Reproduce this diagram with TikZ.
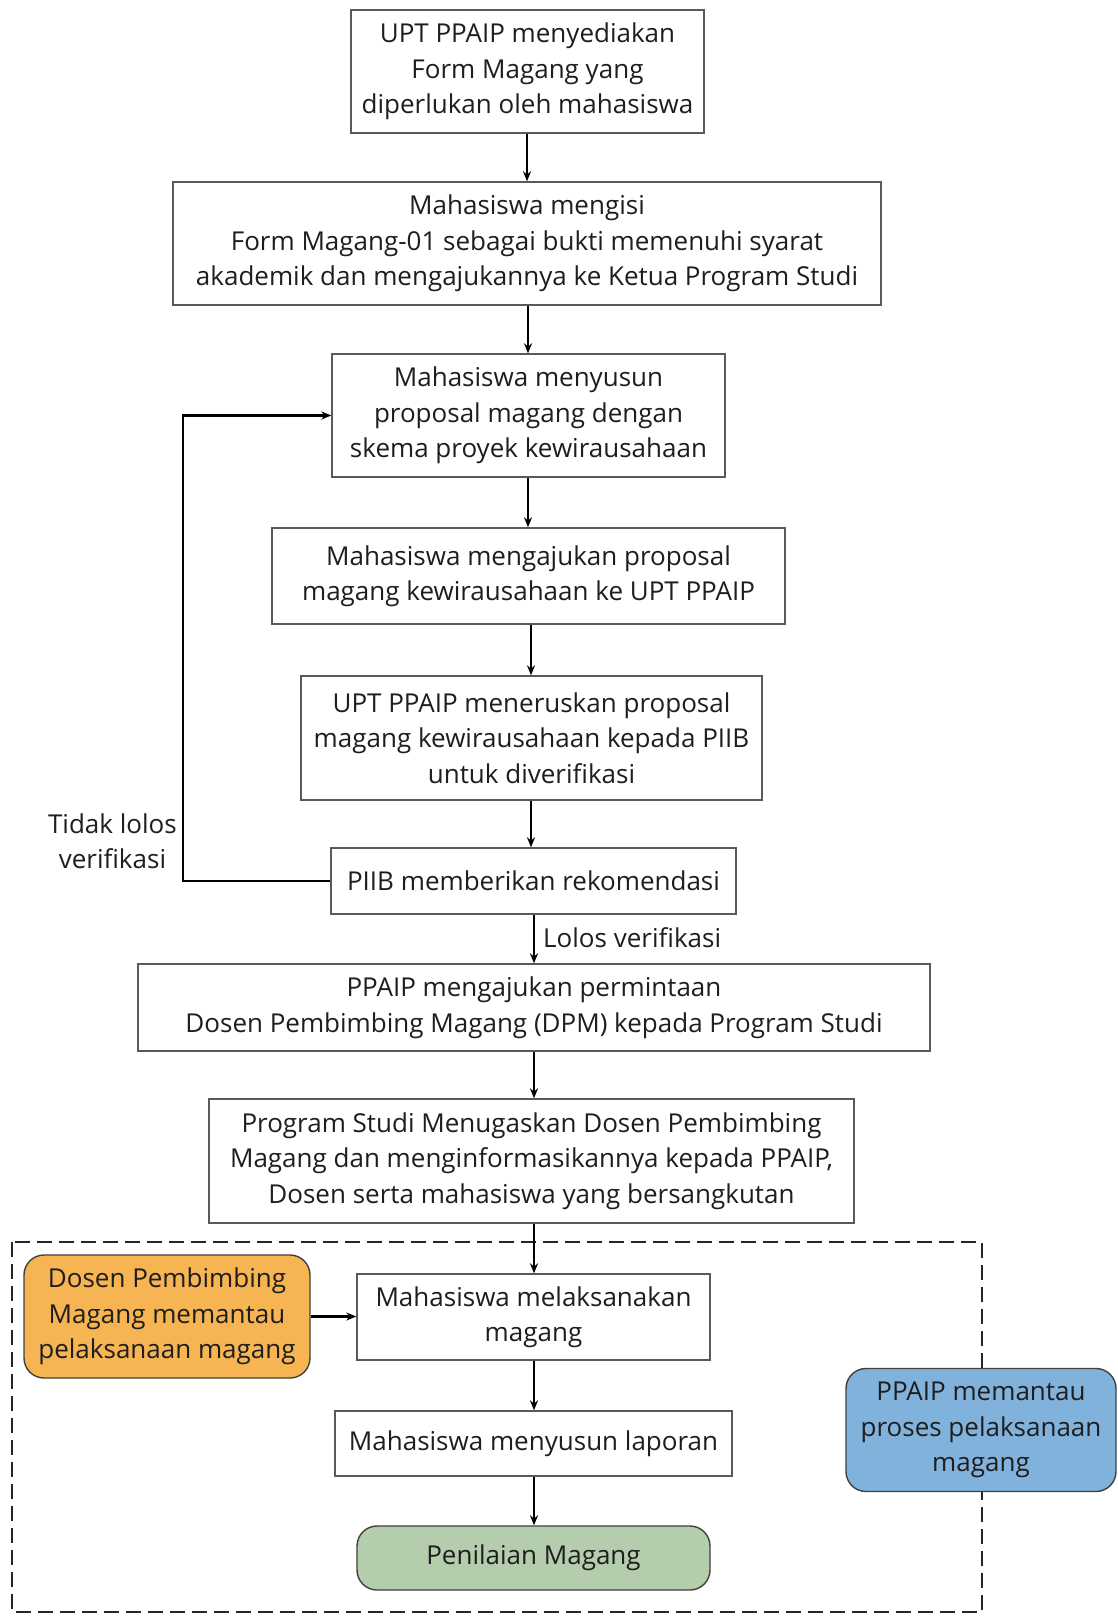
\documentclass[tikz,border=0pt]{standalone}
\usepackage{fontspec}
\setmainfont{Open Sans}
\usetikzlibrary{arrows.meta}
\definecolor{boxgray}{RGB}{90,90,90}
\definecolor{orangefill}{RGB}{246,180,82}
\definecolor{bluefill}{RGB}{128,178,220}
\definecolor{greenfill}{RGB}{180,205,172}
\definecolor{txt}{RGB}{30,30,30}
\begin{document}
\begin{tikzpicture}[x=1pt,y=-1pt,
  every node/.style={font=\fontsize{26}{35.5}\selectfont, text=txt, align=center, inner sep=0pt},
  stepbox/.style={draw=boxgray, line width=1.4pt, fill=white},
  roundbox/.style={draw=black!75, line width=1.4pt, rounded corners=20pt},
  flow/.style={draw=black, line width=2.2pt, -{Stealth[length=10pt,width=8pt]}},
  frame/.style={draw=black!85, line width=2pt, dash pattern=on 15pt off 7pt}]
\useasboundingbox (0,0) rectangle (1117,1616);
\fill[white] (0,0) rectangle (1117,1616);
\draw[frame] (12,1242) rectangle (982,1612);

\node[stepbox, minimum width=353pt, minimum height=123pt] (b1) at (527.5,71.5) {UPT PPAIP menyediakan\\Form Magang yang\\diperlukan oleh mahasiswa};
\node[stepbox, minimum width=708pt, minimum height=123pt] (b2) at (527,243.5) {Mahasiswa mengisi\\Form Magang-01 sebagai bukti memenuhi syarat\\akademik dan mengajukannya ke Ketua Program Studi};
\node[stepbox, minimum width=393pt, minimum height=123pt] (b3) at (528.5,415.5) {Mahasiswa menyusun\\proposal magang dengan\\skema proyek kewirausahaan};
\node[stepbox, minimum width=513pt, minimum height=96pt] (b4) at (528.5,576) {Mahasiswa mengajukan proposal\\magang kewirausahaan ke UPT PPAIP};
\node[stepbox, minimum width=461pt, minimum height=124pt] (b5) at (531.5,738) {UPT PPAIP meneruskan proposal\\magang kewirausahaan kepada PIIB\\untuk diverifikasi};
\node[stepbox, minimum width=405pt, minimum height=66pt] (b6) at (533.5,881) {PIIB memberikan rekomendasi};
\node[stepbox, minimum width=792pt, minimum height=87pt] (b7) at (534,1007.5) {PPAIP mengajukan permintaan\\Dosen Pembimbing Magang (DPM) kepada Program Studi};
\node[stepbox, minimum width=645pt, minimum height=124pt] (b8) at (531.5,1161) {Program Studi Menugaskan Dosen Pembimbing\\Magang dan menginformasikannya kepada PPAIP,\\Dosen serta mahasiswa yang bersangkutan};
\node[stepbox, minimum width=353pt, minimum height=86pt] (b9) at (533.5,1317) {Mahasiswa melaksanakan\\magang};
\node[stepbox, minimum width=397pt, minimum height=65pt] (b10) at (533.5,1443.5) {Mahasiswa menyusun laporan};
\node[roundbox, fill=greenfill, minimum width=353pt, minimum height=64pt] (b11) at (533.5,1558) {Penilaian Magang};
\node[roundbox, fill=orangefill, minimum width=286pt, minimum height=123pt] (dpm) at (167,1316.5) {Dosen Pembimbing\\Magang memantau\\pelaksanaan magang};
\node[roundbox, fill=bluefill, minimum width=270pt, minimum height=123pt] (ppaip) at (981,1430) {PPAIP memantau\\proses pelaksanaan\\magang};

\draw[flow] (b1.south -| 527,0) -- (b2.north -| 527,0);
\draw[flow] (b2.south -| 528,0) -- (b3.north -| 528,0);
\draw[flow] (b3.south -| 528,0) -- (b4.north -| 528,0);
\draw[flow] (b4.south -| 531,0) -- (b5.north -| 531,0);
\draw[flow] (b5.south -| 531,0) -- (b6.north -| 531,0);
\draw[flow] (b6.south -| 534,0) -- (b7.north -| 534,0);
\draw[flow] (b7.south -| 534,0) -- (b8.north -| 534,0);
\draw[flow] (b8.south -| 534,0) -- (b9.north -| 534,0);
\draw[flow] (b9.south -| 534,0) -- (b10.north -| 534,0);
\draw[flow] (b10.south -| 534,0) -- (b11.north -| 534,0);
\draw[flow] (dpm.east) -- (b9.west |- dpm.east);
\coordinate (loopc) at (183,881);
\draw[flow] (b6.west) -- (loopc) |- (b3.west);

\node[anchor=east] (tidak) at (177,841) {Tidak lolos\\verifikasi};
\node[anchor=west] (lolos) at (543,938) {Lolos verifikasi};
\end{tikzpicture}
\end{document}
